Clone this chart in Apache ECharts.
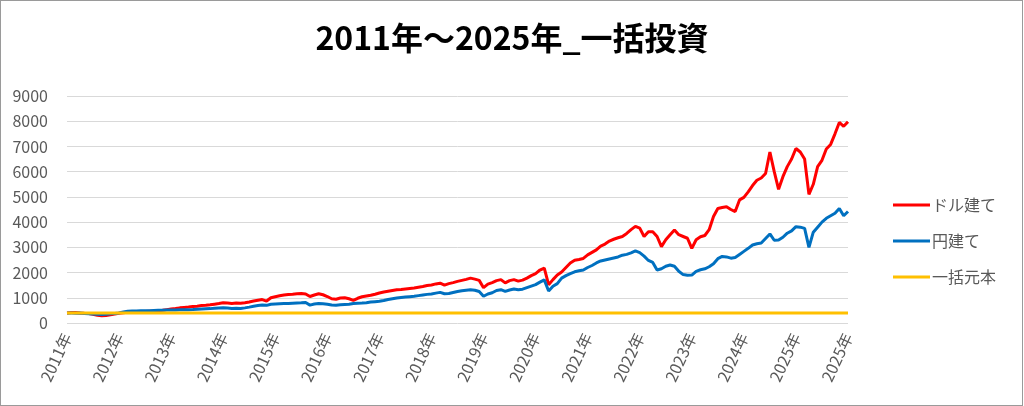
<!DOCTYPE html>
<html>
<head>
<meta charset="utf-8">
<script src="https://cdn.jsdelivr.net/npm/echarts@6/dist/echarts.min.js"></script>
<style>
  html, body { margin: 0; padding: 0; background: #fff; }
  #chart { position: absolute; left: 0; top: 0; width: 1024px; height: 406px; }
  #frame { position: absolute; left: 0; top: 0; width: 1023px; height: 406px; box-sizing: border-box; border: 1px solid #9a9a9a; pointer-events: none; }
</style>
</head>
<body>
<div id="chart"></div>
<div id="frame"></div>
<script>
const chartTitle = '2011年～2025年_一括投資';
const seriesNames = ['ドル建て', '円建て', '一括元本'];
const tickLabels = ['2011年','2012年','2013年','2014年','2015年','2016年','2017年','2018年','2019年','2020年','2021年','2022年','2023年','2024年','2025年','2025年'];
const pointsPerTick = 12;
const yTicks = { min: 0, max: 9000, interval: 1000 };

const dollarValues = [
  400,415,420,400,385,375,350,310,290,300,330,360,
  390,410,425,435,440,450,455,465,475,490,505,530,
  555,575,600,615,630,650,665,690,700,720,745,770,
  800,790,770,790,780,800,830,870,900,930,870,1000,
  1040,1080,1110,1130,1140,1160,1170,1150,1050,1110,1160,1120,
  1050,960,940,990,1000,960,900,980,1040,1070,1100,1140,
  1190,1230,1260,1290,1320,1330,1350,1370,1390,1420,1450,1490,
  1510,1550,1580,1500,1560,1600,1650,1690,1730,1780,1740,1690,
  1400,1540,1600,1680,1720,1590,1680,1720,1660,1700,1780,1880,
  1960,2100,2180,1520,1720,1900,2020,2200,2380,2490,2520,2560,
  2700,2800,2900,3050,3130,3250,3320,3380,3430,3550,3700,3830,
  3760,3430,3620,3620,3430,3030,3300,3500,3690,3500,3430,3360,
  2960,3300,3420,3470,3700,4220,4540,4580,4610,4500,4420,4880,
  4980,5200,5450,5660,5750,5930,6780,6000,5300,5800,6200,6500,
  6920,6780,6500,5100,5500,6200,6450,6900,7080,7500,7950,7800,
  7980
];

const yenValues = [
  400,395,390,400,375,370,360,345,340,345,365,380,
  400,440,470,480,480,490,485,490,500,505,510,515,
  520,520,525,530,530,535,545,555,565,570,580,590,
  600,590,575,580,575,600,630,665,690,710,700,745,
  755,765,770,775,785,795,800,810,710,750,775,760,
  740,710,705,725,735,745,770,780,790,805,830,845,
  860,890,930,960,990,1010,1030,1045,1060,1085,1110,1135,
  1150,1185,1215,1160,1170,1210,1250,1280,1300,1320,1300,1250,
  1060,1150,1200,1290,1320,1255,1310,1345,1320,1340,1400,1460,
  1520,1620,1710,1270,1460,1560,1780,1880,1960,2030,2070,2100,
  2200,2280,2380,2460,2500,2540,2580,2620,2690,2720,2780,2860,
  2790,2650,2480,2400,2100,2150,2250,2300,2250,2050,1920,1890,
  1900,2050,2110,2150,2230,2350,2550,2640,2620,2570,2600,2720,
  2840,2960,3090,3140,3170,3350,3530,3280,3290,3400,3560,3650,
  3820,3800,3750,3000,3600,3800,4000,4150,4250,4350,4540,4250,
  4420
];

const principalValues = [
  400,400,400,400,400,400,400,400,400,400,400,400,
  400,400,400,400,400,400,400,400,400,400,400,400,
  400,400,400,400,400,400,400,400,400,400,400,400,
  400,400,400,400,400,400,400,400,400,400,400,400,
  400,400,400,400,400,400,400,400,400,400,400,400,
  400,400,400,400,400,400,400,400,400,400,400,400,
  400,400,400,400,400,400,400,400,400,400,400,400,
  400,400,400,400,400,400,400,400,400,400,400,400,
  400,400,400,400,400,400,400,400,400,400,400,400,
  400,400,400,400,400,400,400,400,400,400,400,400,
  400,400,400,400,400,400,400,400,400,400,400,400,
  400,400,400,400,400,400,400,400,400,400,400,400,
  400,400,400,400,400,400,400,400,400,400,400,400,
  400,400,400,400,400,400,400,400,400,400,400,400,
  400,400,400,400,400,400,400,400,400,400,400,400,
  400
];

const colors = ['#FF0000', '#0070C0', '#FFC000'];

// one category per data point; a tick label is shown every pointsPerTick points
const categories = dollarValues.map((_, i) => String(i));

const FONT = "'Noto Sans CJK JP', 'Noto Sans', sans-serif";
const chart = echarts.init(document.getElementById('chart'), null, { renderer: 'canvas' });

function lineSeries(name, data, color) {
  return {
    name: name,
    type: 'line',
    data: data,
    showSymbol: false,
    symbol: 'none',
    smooth: false,
    animation: false,
    lineStyle: { color: color, width: 3 },
    itemStyle: { color: color }
  };
}

chart.setOption({
  animation: false,
  backgroundColor: '#ffffff',
  title: {
    text: chartTitle,
    left: 'center',
    top: 17,
    textStyle: { fontFamily: FONT, fontSize: 32, fontWeight: 'bold', color: '#000000' }
  },
  legend: {
    orient: 'vertical',
    left: 888,
    top: 192,
    itemWidth: 37,
    itemHeight: 3,
    itemGap: 20,
    icon: 'rect',
    data: seriesNames,
    textStyle: { fontFamily: FONT, fontSize: 16, color: '#595959', padding: [0, 0, 0, -3] }
  },
  grid: { left: 67, right: 176, top: 96, bottom: 83, containLabel: false },
  xAxis: {
    type: 'category',
    data: categories,
    boundaryGap: false,
    axisLine: { show: false },
    axisTick: { show: false },
    splitLine: { show: false },
    axisLabel: {
      interval: pointsPerTick - 1,
      rotate: 65,
      margin: 11,
      color: '#595959',
      fontFamily: FONT,
      fontSize: 16,
      formatter: function (value, index) {
        return tickLabels[Math.floor(index / pointsPerTick)];
      }
    }
  },
  yAxis: {
    type: 'value',
    min: yTicks.min,
    max: yTicks.max,
    interval: yTicks.interval,
    axisLine: { show: false },
    axisTick: { show: false },
    splitLine: { show: true, lineStyle: { color: '#D9D9D9', width: 1 } },
    axisLabel: {
      color: '#595959', fontFamily: FONT, fontSize: 16, margin: 19,
      formatter: function (v) { return String(v); }
    }
  },
  series: [
    lineSeries(seriesNames[0], dollarValues, colors[0]),
    lineSeries(seriesNames[1], yenValues, colors[1]),
    lineSeries(seriesNames[2], principalValues, colors[2])
  ]
});
</script>
</body>
</html>
